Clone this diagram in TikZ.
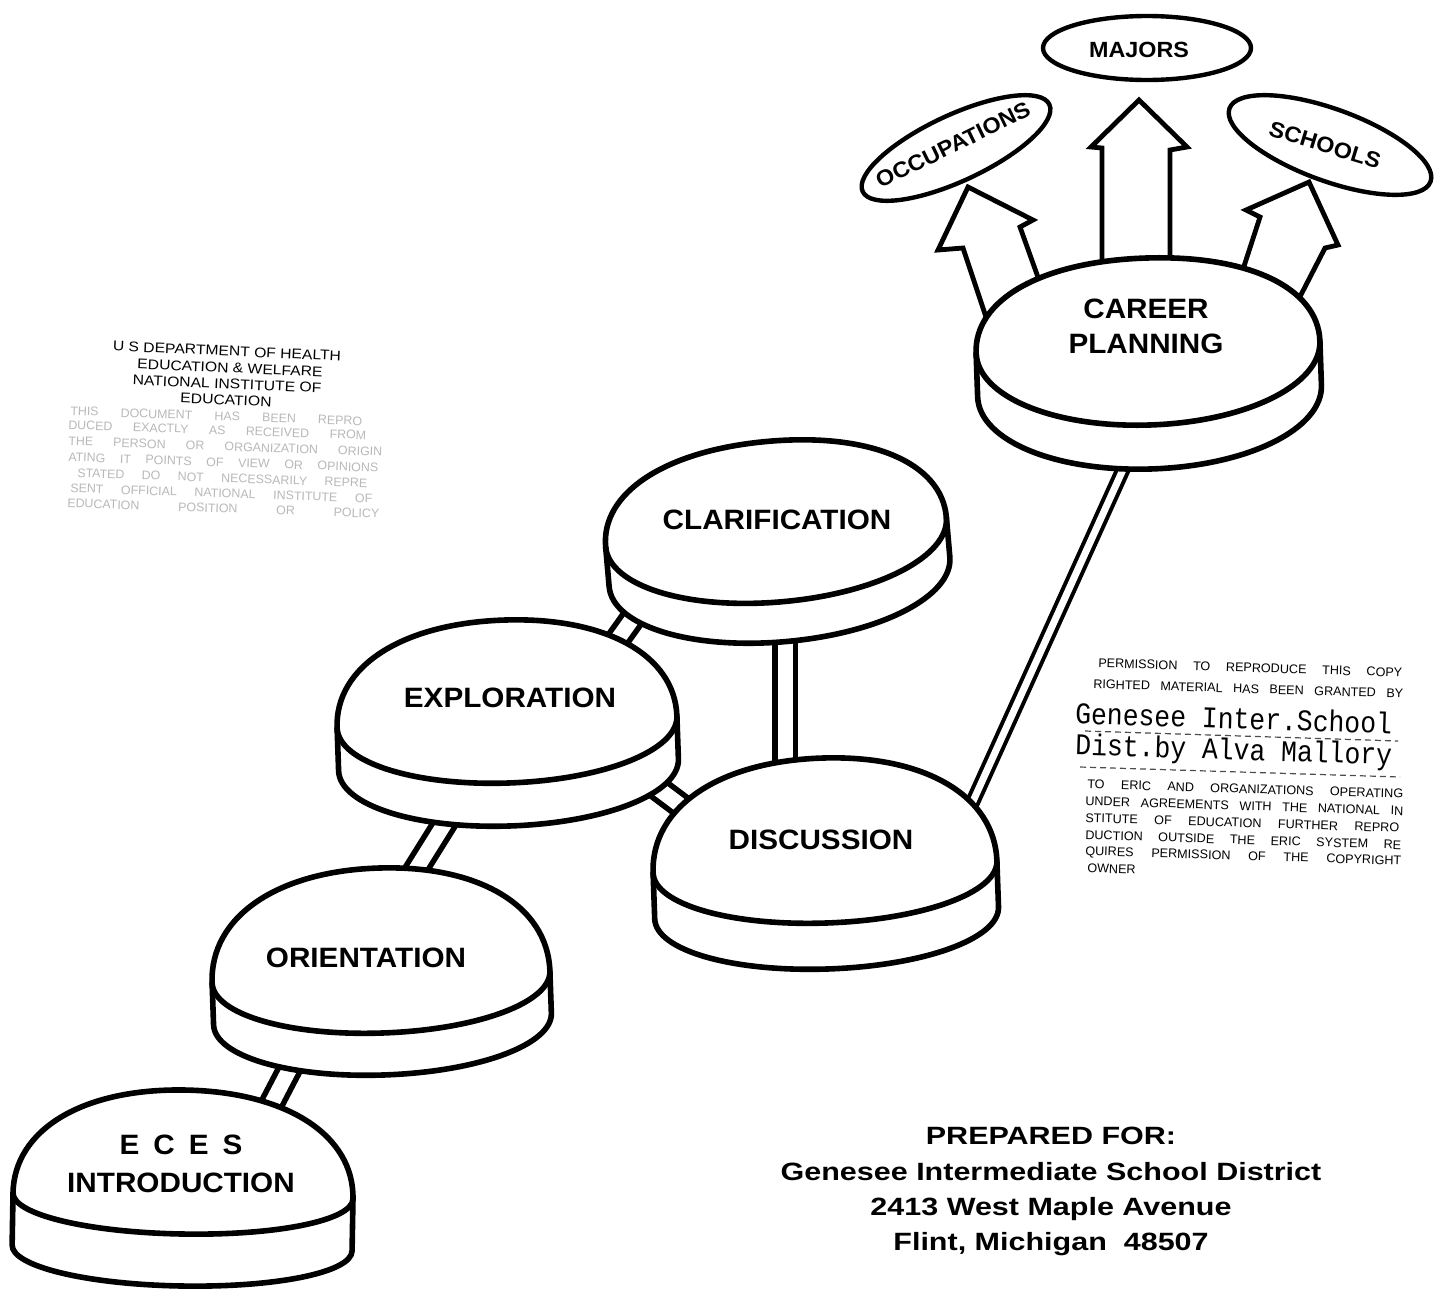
\documentclass[tikz,border=0pt]{standalone}
\usepackage{fontspec}
\setmainfont{Liberation Sans}
\newfontfamily\labfont{Liberation Sans}[FakeStretch=1.06]
\newfontfamily\hdrfont{Liberation Sans}[FakeStretch=1.12]
\newfontfamily\addrfont{Liberation Sans}[FakeStretch=1.22]
\newfontfamily\typefont{Liberation Mono}[FakeStretch=0.88]
\tikzset{
  disk/.style={line width=2.8pt, fill=white, line join=round},
  lip/.style={line width=2.8pt, line cap=round},
  link/.style={line width=2.8pt, double=white, double distance=7.5pt},
  thinlink/.style={line width=2pt, double=white, double distance=3.5pt},
  barrow/.style={line width=2.4pt, fill=white, line join=miter},
  oval/.style={line width=2.2pt},
  lab/.style={font=\labfont\bfseries\fontsize{14}{18.5}\selectfont, align=center, inner sep=0pt},
  ovallab/.style={font=\labfont\bfseries\fontsize{11}{13}\selectfont, inner sep=0pt},
  addr/.style={font=\addrfont\bfseries\fontsize{12.5}{15}\selectfont, inner sep=0pt, anchor=base},
  hdr/.style={font=\hdrfont\fontsize{7}{8}\selectfont, inner sep=0pt, rotate=-2.5},
  speck/.style={font=\fontsize{6.2}{7}\selectfont, text=black!28, inner sep=0pt, anchor=west, rotate=-2},
  perm/.style={font=\fontsize{6.3}{7}\selectfont, inner sep=0pt, anchor=west, rotate=-1.8},
  tw/.style={font=\typefont\fontsize{15}{17}\selectfont, inner sep=0pt, anchor=west, rotate=-1.8},
}
\def\kt{0.6}
\def\kb{0.56}
% cx cy rx rtop rbottom depth tilt
\newcommand{\drawdisk}[7]{%
  \begin{scope}[shift={(#1,#2)},rotate=#7]
    \draw[disk] (-#3,0) .. controls (-#3,{-\kt*#4}) and ({-\kt*#3},-#4) .. (0,-#4)
      .. controls ({\kt*#3},-#4) and (#3,{-\kt*#4}) .. (#3,0)
      -- (#3,#6) .. controls (#3,{#6+\kb*#5}) and ({\kb*#3},{#6+#5}) .. (0,{#6+#5})
      .. controls ({-\kb*#3},{#6+#5}) and (-#3,{#6+\kb*#5}) .. (-#3,#6) -- cycle;
    \draw[lip] (-#3,0) .. controls (-#3,{\kb*#5}) and ({-\kb*#3},#5) .. (0,#5)
      .. controls ({\kb*#3},#5) and (#3,{\kb*#5}) .. (#3,0);
  \end{scope}}
\begin{document}
\begin{tikzpicture}[x=0.5pt,y=-0.5pt]
\useasboundingbox (0,0) rectangle (1439,1291);

% ---------- connector end points ----------
\coordinate (c1a) at (262,1122); \coordinate (c1b) at (310,1030);
\coordinate (c2a) at (400,895);  \coordinate (c2b) at (470,783);
\coordinate (c3a) at (605,657);  \coordinate (c3b) at (655,587);
\coordinate (c4a) at (620,760);  \coordinate (c4b) at (720,835);
\coordinate (c5a) at (785,600);  \coordinate (c5b) at (785,800);
\coordinate (c6a) at (960,830);  \coordinate (c6b) at (1135,443);

\draw[link] (c1a) -- (c1b);
\draw[link] (c2a) -- (c2b);
\draw[link] (c3a) -- (c3b);
\draw[link] (c4a) -- (c4b);
\draw[link] (c5a) -- (c5b);
\draw[thinlink] (c6a) -- (c6b);

% ---------- block arrows ----------
\draw[barrow] (1102,330) -- (1102,148) -- (1091,147) -- (1139,100) -- (1187,147) -- (1170,150) -- (1170,330);
\draw[barrow] (997,350) -- (963,248) -- (938,250) -- (968,187) -- (1033,220) -- (1020,227) -- (1049,308);
\draw[barrow] (1233,300) -- (1260,217) -- (1246,210) -- (1309,182) -- (1338,245) -- (1325,248) -- (1288,320);

% ---------- disks ----------
\drawdisk{183}{1196}{170}{106}{38}{52}{-1}
\drawdisk{381}{977}{169}{109}{56}{42}{2}
\drawdisk{507}{722}{170}{102}{61}{43}{2}
\drawdisk{776}{532}{171}{91}{70}{40}{5}
\drawdisk{825}{867}{172}{109}{56}{46}{2}
\drawdisk{1148}{347}{172}{89}{78}{44}{2}

\node[lab, font=\labfont\bfseries\fontsize{14}{19}\selectfont] (eces) at (181,1164) {{\spaceskip=0.5em\relax E C E S}\\INTRODUCTION};
\node[lab] (orient) at (366,958) {ORIENTATION};
\node[lab] (explor) at (510,698) {EXPLORATION};
\node[lab] (clarif) at (777,520) {CLARIFICATION};
\node[lab] (discuss) at (821,840) {DISCUSSION};
\node[lab, font=\labfont\bfseries\fontsize{14}{17.5}\selectfont] (career) at (1146,326) {CAREER\\PLANNING};

% ---------- outcome ovals ----------
\draw[oval] (1147,48) ellipse [x radius=104, y radius=32];
\draw[oval, rotate around={25:(956,148)}] (956,148) ellipse [x radius=103, y radius=33];
\draw[oval, rotate around={-20:(1330,145)}] (1330,145) ellipse [x radius=107, y radius=36];
\node[ovallab] (majors) at (1139,50) {MAJORS};
\node[ovallab, rotate=26] (occup) at (953,145) {OCCUPATIONS};
\node[ovallab, rotate=-17] (schools) at (1325,145) {SCHOOLS};

% ---------- top-left stamp ----------
\node[hdr] (hs1) at (227,351) {U S DEPARTMENT OF HEALTH};
\node[hdr] (hs2) at (230,368) {EDUCATION \& WELFARE};
\node[hdr] (hs3) at (227,384) {NATIONAL INSTITUTE OF};
\node[hdr] (hs4) at (226,400) {EDUCATION};
\node[speck] (sp1) at (70,411) {\makebox[146pt][s]{THIS DOCUMENT HAS BEEN REPRO}};
\node[speck] (sp2) at (68,425) {\makebox[149pt][s]{DUCED EXACTLY AS RECEIVED FROM}};
\node[speck] (sp3) at (68,441) {\makebox[157pt][s]{THE PERSON OR ORGANIZATION ORIGIN}};
\node[speck] (sp4) at (68,457) {\makebox[155pt][s]{ATING IT POINTS OF VIEW OR OPINIONS}};
\node[speck] (sp5) at (77,473) {\makebox[145pt][s]{STATED DO NOT NECESSARILY REPRE}};
\node[speck] (sp6) at (70,488) {\makebox[151pt][s]{SENT OFFICIAL NATIONAL INSTITUTE OF}};
\node[speck] (sp7) at (67,503) {\makebox[156pt][s]{EDUCATION POSITION OR POLICY}};

% ---------- permission stamp ----------
\node[perm] (pm1) at (1098,663) {\makebox[152pt][s]{PERMISSION TO REPRODUCE THIS COPY}};
\node[perm] (pm2) at (1093,684) {\makebox[155pt][s]{RIGHTED MATERIAL HAS BEEN GRANTED BY}};
\node[tw] (pm3) at (1075,713) {Genesee Inter.School};
\node[tw] (pm4) at (1075,747) {Dist.by Alva Mallory};
\coordinate (dl1a) at (1085,731); \coordinate (dl1b) at (1398,741);
\coordinate (dl2a) at (1080,767); \coordinate (dl2b) at (1400,777);
\draw[line width=0.6pt, dash pattern=on 3pt off 2pt, black!70] (dl1a) -- (dl1b);
\draw[line width=0.6pt, dash pattern=on 3pt off 2pt, black!70] (dl2a) -- (dl2b);
\node[perm] (pm5) at (1087,784) {\makebox[158pt][s]{TO ERIC AND ORGANIZATIONS OPERATING}};
\node[perm] (pm6) at (1085,801) {\makebox[159pt][s]{UNDER AGREEMENTS WITH THE NATIONAL IN}};
\node[perm] (pm7) at (1085,818) {\makebox[157pt][s]{STITUTE OF EDUCATION FURTHER REPRO}};
\node[perm] (pm8) at (1085,835) {\makebox[158pt][s]{DUCTION OUTSIDE THE ERIC SYSTEM RE}};
\node[perm] (pm9) at (1085,852) {\makebox[158pt][s]{QUIRES PERMISSION OF THE COPYRIGHT}};
\node[perm] (pm10) at (1087,868) {OWNER};

% ---------- address ----------
\node[addr] (prep) at (1051,1144) {PREPARED FOR:};
\node[addr] (gisd) at (1051,1180) {Genesee Intermediate School District};
\node[addr] (street) at (1051,1215) {2413 West Maple Avenue};
\node[addr] (city) at (1051,1250) {Flint, Michigan\ \ 48507};
\end{tikzpicture}
\end{document}
